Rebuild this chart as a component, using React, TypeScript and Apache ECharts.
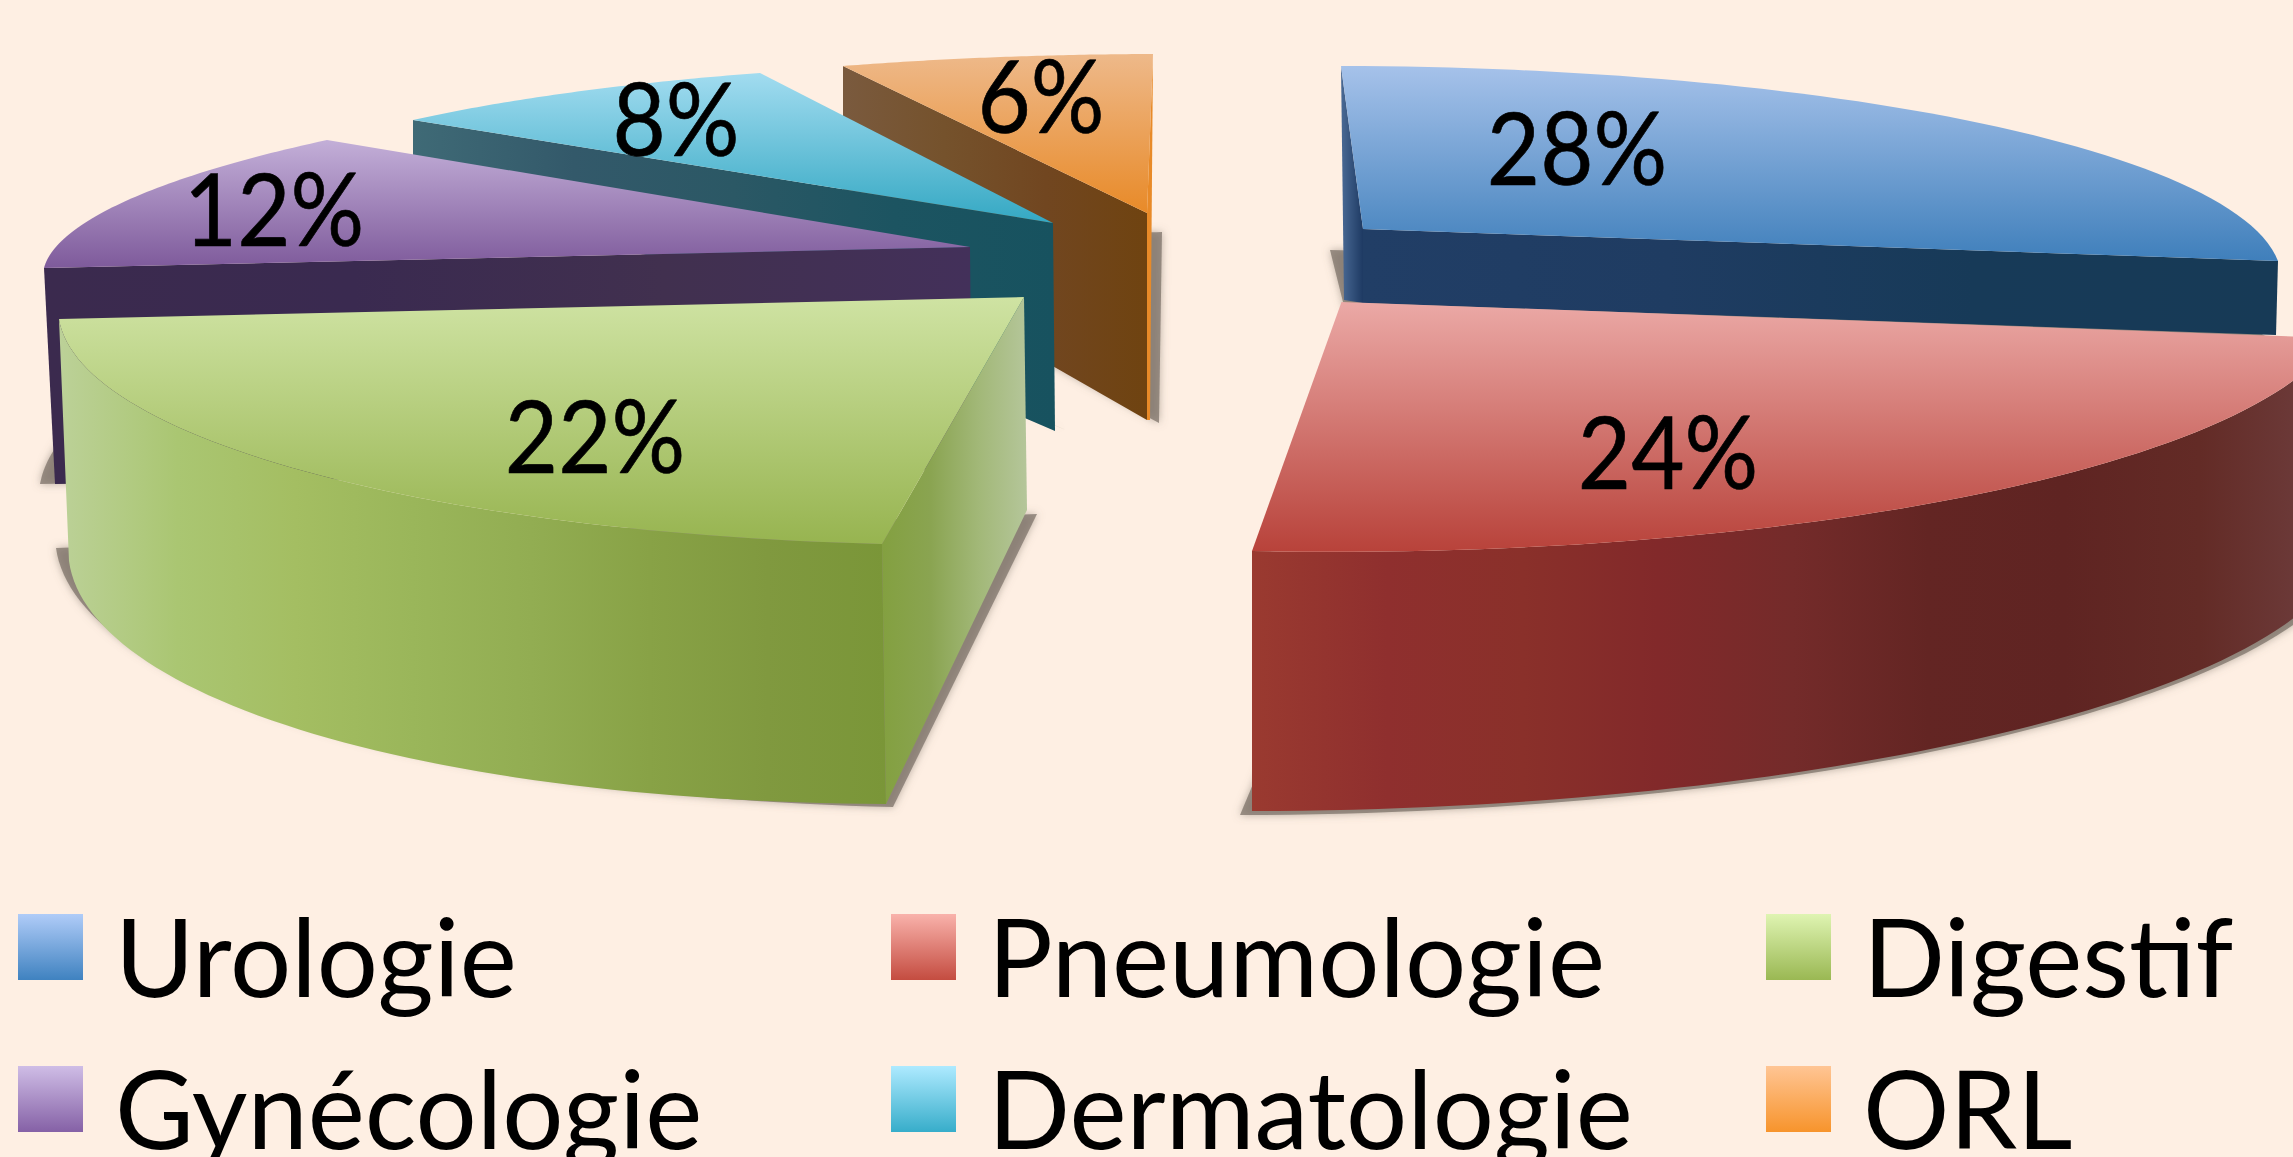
import React, { useEffect, useRef } from "react";
import * as echarts from "echarts";

type Pt = [number, number];
type Tri = [Pt, Pt, Pt];

// Data
const categories = ["Urologie", "Pneumologie", "Digestif", "Gynécologie", "Dermatologie", "ORL"];
const percentValues = [28, 24, 22, 12, 8, 6];

// Layout of the exploded perspective pie (corners: arc start, apex, arc end)
const topCorners: Tri[] = [
  [[1341, 66], [1363, 229], [2278, 261]],
  [[1252, 551], [1341.5, 302], [2335, 338]],
  [[59, 319], [1024, 297], [882, 544]],
  [[44, 268], [970, 247], [327, 140]],
  [[413, 120], [1053, 223], [760, 73]],
  [[843, 66], [1147, 213], [1153, 54]],
];
const bottomCorners: Tri[] = [
  [[1344, 300], [1363, 303], [2276, 335]],
  [[1252, 811], [1342, 560], [2335, 575]],
  [[69, 561], [1027, 510], [886, 804]],
  [[55, 484], [972, 469], [327, 300]],
  [[413, 155], [1055, 431], [760, 300]],
  [[843, 246], [1147, 420], [1150, 420]],
];
const shadowCorners: Tri[] = [
  [[1330, 250], [1345, 310], [2270, 340]],
  [[1240, 815], [1345, 565], [2340, 580]],
  [[56, 548], [1037, 514], [893, 807]],
  [[40, 484], [980, 470], [327, 300]],
  [[413, 160], [1066, 430], [760, 300]],
  [[843, 253], [1159, 423], [1162, 232]],
];
// perspective foreshortening toward the arc start of each slice
const foreshorten = [0.243, 0, 0, 0, 0, 0];
const visibleFaces = [
  ["start", "end"],
  ["arc"],
  ["arc", "end"],
  ["start"],
  ["start"],
  ["end", "start"],
];
const labelCenters: Pt[] = [
  [1577, 144], [1668, 448], [595, 432], [274, 205], [676, 115], [1041, 92],
];
const drawOrder = [5, 4, 3, 2, 0, 1];

const topColors = [
  ["#a6c2ea", "#3f7fbb"],
  ["#eba9a6", "#b8423a"],
  ["#cfe3a3", "#97b450"],
  ["#c3afd8", "#7e5a9b"],
  ["#a2dcf0", "#34a8c3"],
  ["#eeb98a", "#e88a28"],
];
const legendColors = [
  ["#b0ccf8", "#3f82c0"],
  ["#f9b2ab", "#c44c40"],
  ["#dff4b2", "#9ab853"],
  ["#cfbde6", "#8561a6"],
  ["#aeeaff", "#37adca"],
  ["#ffc594", "#f7942c"],
];
const startFaceColors: string[][] = [
  ["#4a6a95", "#1e3a63"],
  [],
  [],
  ["#3b2a4e", "#3a2a50", "#41304f", "#43305a"],
  ["#3f6a76", "#33596a", "#2b5865", "#1c5461", "#17525f"],
  ["#7a5a3e", "#75522c", "#714620", "#6f4310"],
];
const endFaceColors: string[][] = [
  ["#213e66", "#1f3c62", "#173a58", "#173a56"],
  [],
  ["#83a040", "#8aa451", "#a2b878", "#b5c69a"],
  [],
  [],
  ["#e88a28", "#e88a28"],
];
const arcFaceColors: string[][] = [
  [],
  ["#9a3a30", "#8f2f2e", "#8a302a", "#82292a", "#742b2a", "#632523", "#5f2422", "#632b26", "#6f3f3f"],
  ["#bcd198", "#aac672", "#a4be62", "#9ab65a", "#92ad52", "#88a246", "#80993f", "#7a9638"],
  [],
  [],
  [],
];

const legendCells: { left: number; top: number }[] = [
  { left: 18, top: 0 },
  { left: 891, top: 0 },
  { left: 1766, top: 0 },
  { left: 18, top: 1 },
  { left: 891, top: 1 },
  { left: 1766, top: 1 },
];
const legendOrder = [0, 1, 2, 3, 4, 5];

const FONT = "Lato, Calibri, Carlito, sans-serif";
const BG = "#feefe3";

function stops(cols: string[]) {
  return cols.map((color, i) => ({ offset: cols.length === 1 ? 0 : i / (cols.length - 1), color }));
}
function horiz(cols: string[]) {
  return new echarts.graphic.LinearGradient(0, 0, 1, 0, stops(cols));
}
function vert(cols: string[]) {
  return new echarts.graphic.LinearGradient(0, 0, 0, 1, stops(cols));
}

// Elliptical arc: the projective image of a circular sector of angle theta
function arcPoints([S, A, E]: Tri, theta: number, p = 0, n = 60): Pt[] {
  const out: Pt[] = [];
  const st = Math.sin(theta);
  for (let i = 0; i <= n; i++) {
    const phi = (theta * i) / n;
    const a0 = Math.sin(theta - phi) / st;
    const b0 = Math.sin(phi) / st;
    const w = 1 + p * a0;
    const a = (a0 * (1 + p)) / w;
    const b = b0 / w;
    out.push([
      A[0] + (S[0] - A[0]) * a + (E[0] - A[0]) * b,
      A[1] + (S[1] - A[1]) * a + (E[1] - A[1]) * b,
    ]);
  }
  return out;
}

function makeRenderItem(idx: number) {
  return (_params: any, api: any) => {
    const value = api.value(0) as number;
    const theta = (value / 100) * Math.PI * 2;
    const p = foreshorten[idx];
    const top = topCorners[idx];
    const bot = bottomCorners[idx];
    const sh = shadowCorners[idx];
    const children: any[] = [];
    children.push({
      type: "polygon",
      silent: true,
      shape: { points: [sh[1], ...arcPoints(sh, theta, p)] },
      style: {
        fill: "rgba(125,115,106,0.75)",
        shadowBlur: 8,
        shadowColor: "rgba(120,110,100,0.7)",
      },
    });
    for (const face of visibleFaces[idx]) {
      if (face === "arc") {
        const t = arcPoints(top, theta, p);
        const b = arcPoints(bot, theta, p).reverse();
        children.push({
          type: "polygon",
          silent: true,
          shape: { points: [...t, ...b] },
          style: { fill: horiz(arcFaceColors[idx]) },
        });
      } else {
        const k = face === "start" ? 0 : 2;
        const cols = face === "start" ? startFaceColors[idx] : endFaceColors[idx];
        children.push({
          type: "polygon",
          silent: true,
          shape: { points: [top[k], top[1], bot[1], bot[k]] },
          style: { fill: horiz(cols) },
        });
      }
    }
    children.push({
      type: "polygon",
      silent: true,
      shape: { points: [top[1], ...arcPoints(top, theta, p)] },
      style: { fill: vert(topColors[idx]) },
    });
    children.push({
      type: "text",
      silent: true,
      x: labelCenters[idx][0],
      y: labelCenters[idx][1] + 2,
      scaleY: 1.1,
      style: {
        x: 0,
        y: 0,
        text: `${value}%`,
        fill: "#000",
        stroke: "#000",
        lineWidth: 0.6,
        font: `400 92px ${FONT}`,
        textAlign: "center",
        textVerticalAlign: "middle",
      },
    });
    return { type: "group", children };
  };
}

function legendItem(name: string, cell: { left: number; top: number }) {
  return {
    show: true,
    orient: "horizontal" as const,
    left: cell.left,
    top: cell.top === 0 ? 901 : 1053,
    padding: 0,
    itemWidth: 65,
    itemHeight: 66,
    icon: "rect",
    selectedMode: false,
    data: [name],
    formatter: "{t|{name}}",
    textStyle: {
      color: "#000",
      fontFamily: FONT,
      fontSize: 108,
      padding: [0, 0, 0, 27],
      rich: {
        t: {
          color: "#000",
          fontFamily: FONT,
          fontSize: 108,
          padding: [16, 0, 0, 0],
        },
      },
    },
  };
}

export default function App() {
  const ref = useRef<HTMLDivElement>(null);
  useEffect(() => {
    document.body.style.margin = "0";
    document.body.style.background = BG;
    document.body.style.overflow = "hidden";
    const chart = echarts.init(ref.current!, undefined, { renderer: "svg" });
    chart.setOption({
      animation: false,
      backgroundColor: BG,
      legend: legendOrder.map((i) => legendItem(categories[i], legendCells[i])),
      series: drawOrder.map((idx) => ({
        type: "custom",
        name: categories[idx],
        coordinateSystem: "none",
        silent: true,
        clip: false,
        itemStyle: { color: vert(legendColors[idx]) },
        renderItem: makeRenderItem(idx),
        data: [[percentValues[idx]]],
      })),
    });
    return () => chart.dispose();
  }, []);
  return <div ref={ref} style={{ width: 2293, height: 1157 }} />;
}
